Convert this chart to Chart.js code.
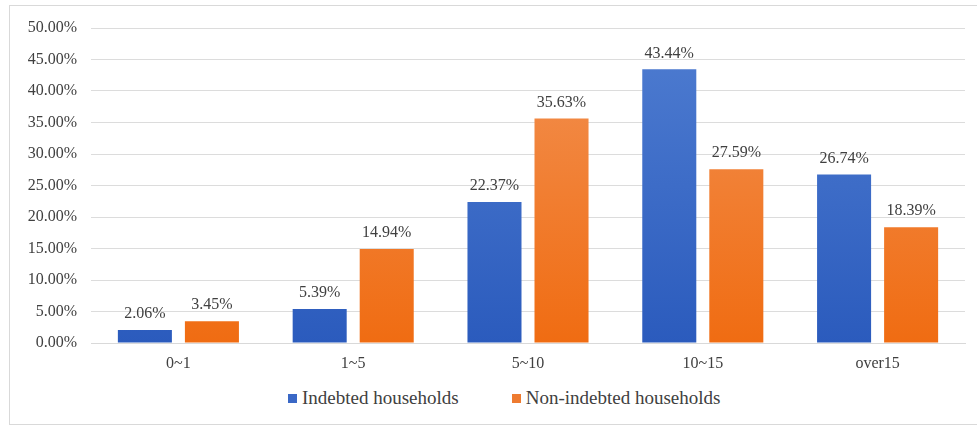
<!DOCTYPE html>
<html>
<head>
<meta charset="utf-8">
<script src="https://cdn.jsdelivr.net/npm/chart.js@4"></script>
<style>
  html, body { margin: 0; padding: 0; background: #fff; overflow: hidden; }
  #frame {
    position: absolute; left: 9px; top: 5px; width: 972px; height: 420px;
    border: 1px solid #d9d9d9; box-sizing: border-box;
  }
  #wrap { position: absolute; left: 0; top: 0; width: 977px; height: 385px; }
  .legend {
    position: absolute; top: 387px; left: 288px; height: 22px;
    font-family: "Times New Roman", "Liberation Serif", "DejaVu Serif", serif;
    font-size: 19px; color: #404040;
    white-space: nowrap; line-height: 22px;
  }
  .legend span.item { display: inline-block; margin-right: 53px; }
  .legend i {
    display: inline-block; width: 9px; height: 9px; margin-right: 5px;
    vertical-align: 1px;
  }
</style>
</head>
<body>
<div id="frame"></div>
<div id="wrap"><canvas id="chart"></canvas></div>
<div class="legend" id="legend"></div>
<script>
// categories (years) and shares per group
const categories = ['0~1', '1~5', '5~10', '10~15', 'over15'];
const indebted = [2.06, 5.39, 22.37, 43.44, 26.74];
const nonIndebted = [3.45, 14.94, 35.63, 27.59, 18.39];
const yTicks = [0, 5, 10, 15, 20, 25, 30, 35, 40, 45, 50];
const seriesNames = ['Indebted households', 'Non-indebted households'];

const FONT = '"Times New Roman", "Liberation Serif", "DejaVu Serif", serif';
const TEXT = '#404040';
const KEY_COLORS = ['#3a68c6', '#ee7b30'];

function barGradient(top, bottom) {
    return function (ctx) {
        const area = ctx.chart.chartArea;
        if (!area) return bottom;
        const g = ctx.chart.ctx.createLinearGradient(0, area.top, 0, area.bottom);
        g.addColorStop(0, top);
        g.addColorStop(1, bottom);
        return g;
    };
}

// value labels above every bar
const valueLabels = {
    id: 'valueLabels',
    afterDatasetsDraw(chart) {
        const c = chart.ctx;
        c.save();
        c.font = '16px ' + FONT;
        c.fillStyle = TEXT;
        c.textAlign = 'center';
        c.textBaseline = 'bottom';
        chart.data.datasets.forEach((ds, i) => {
            chart.getDatasetMeta(i).data.forEach((bar, j) => {
                c.fillText(ds.data[j].toFixed(2) + '%', bar.x, bar.y - 8);
            });
        });
        c.restore();
    }
};

new Chart(document.getElementById('chart'), {
    type: 'bar',
    data: {
        labels: categories,
        datasets: [{
            label: seriesNames[0],
            data: indebted,
            backgroundColor: barGradient('#4f7dd1', '#2b5bbd'),
            categoryPercentage: 0.767,
            barPercentage: 0.806
        }, {
            label: seriesNames[1],
            data: nonIndebted,
            backgroundColor: barGradient('#f29254', '#f06c12'),
            categoryPercentage: 0.767,
            barPercentage: 0.806
        }]
    },
    options: {
        responsive: true,
        maintainAspectRatio: false,
        animation: false,
        layout: { padding: { left: 0, right: 12, top: 28, bottom: 0 } },
        scales: {
            x: {
                grid: { display: false },
                border: { color: '#d9d9d9' },
                ticks: { color: TEXT, font: { family: FONT, size: 16 }, padding: 3, autoSkip: false, maxRotation: 0 },
                afterFit: axis => { axis.height = 42; }
            },
            y: {
                min: 0,
                max: 50,
                afterBuildTicks: axis => { axis.ticks = yTicks.map(v => ({ value: v })); },
                afterFit: axis => { axis.width = 91; },
                grid: { color: '#dcdcdc', drawTicks: false },
                border: { display: false },
                ticks: {
                    color: TEXT,
                    font: { family: FONT, size: 16 },
                    padding: 14,
                    autoSkip: false,
                    callback: v => v.toFixed(2) + '%'
                }
            }
        },
        plugins: {
            legend: { display: false },
            tooltip: { enabled: false }
        }
    },
    plugins: [valueLabels]
});

document.getElementById('legend').innerHTML = seriesNames.map((name, i) =>
    `<span class="item"><i style="background:${KEY_COLORS[i]}"></i>${name}</span>`
).join('');
</script>
</body>
</html>
